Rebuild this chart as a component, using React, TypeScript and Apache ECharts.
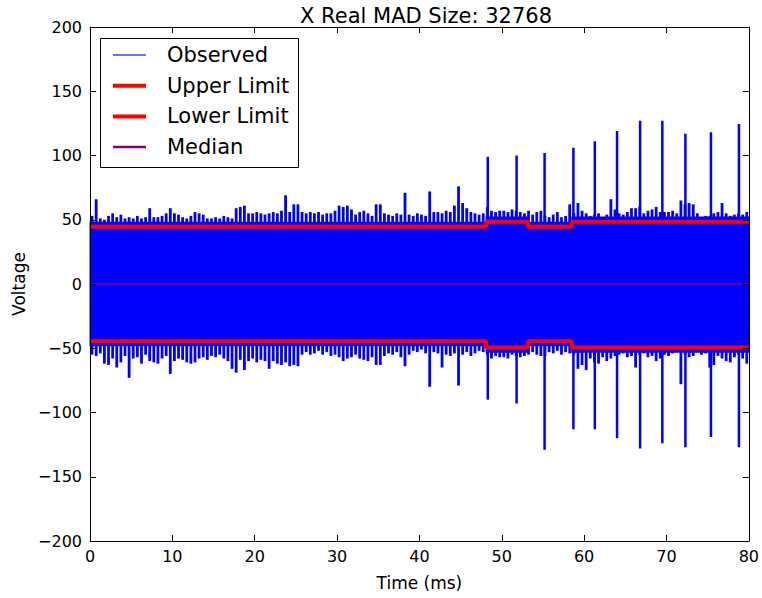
import React, { useEffect, useRef } from "react";
import * as echarts from "echarts";

// ---- Data ----
const TITLE = "X Real MAD Size: 32768";
const X_TICKS = [0, 10, 20, 30, 40, 50, 60, 70, 80];
const Y_TICKS = [-200, -150, -100, -50, 0, 50, 100, 150, 200];

// Observed signal envelope, 0.5 ms bins starting at 0 ms (upper / lower peaks per bin)
const BIN_MS = 0.5;
const observedHigh = [
  53, 66, 51, 50, 53, 55, 52, 54, 51, 52,
  51, 53, 51, 52, 59, 52, 52, 53, 55, 59,
  55, 54, 52, 51, 53, 56, 55, 54, 51, 51,
  52, 51, 53, 52, 51, 59, 60, 61, 55, 55,
  56, 55, 54, 55, 56, 55, 57, 69, 56, 62,
  62, 56, 55, 56, 55, 56, 54, 55, 55, 57,
  61, 60, 61, 58, 54, 56, 57, 55, 53, 62,
  62, 55, 54, 53, 55, 54, 71, 54, 53, 55,
  54, 53, 72, 56, 56, 55, 57, 56, 61, 76,
  63, 59, 56, 55, 54, 55, 60, 57, 56, 57,
  57, 56, 58, 57, 56, 55, 57, 54, 56, 57,
  53, 52, 54, 56, 52, 53, 62, 55, 63, 57,
  55, 53, 54, 55, 52, 54, 66, 58, 55, 54,
  56, 59, 59, 60, 55, 57, 58, 60, 56, 56,
  56, 57, 55, 65, 62, 63, 62, 55, 52, 53,
  53, 55, 56, 63, 55, 53, 54, 55, 54, 56,
];
const observedLow = [
  -55, -56, -54, -62, -63, -58, -65, -61, -56, -73,
  -58, -57, -62, -55, -60, -61, -62, -58, -56, -70,
  -60, -58, -59, -61, -62, -61, -58, -57, -59, -56,
  -57, -55, -58, -60, -66, -69, -59, -67, -60, -58,
  -61, -59, -60, -66, -60, -62, -63, -61, -64, -63,
  -64, -55, -53, -55, -54, -52, -55, -53, -56, -55,
  -57, -60, -58, -57, -55, -58, -59, -60, -57, -63,
  -63, -56, -54, -55, -53, -57, -64, -55, -52, -53,
  -51, -54, -80, -53, -54, -65, -55, -56, -54, -79,
  -55, -53, -56, -54, -52, -53, -55, -58, -56, -57,
  -57, -58, -55, -56, -57, -56, -55, -53, -55, -56,
  -56, -53, -54, -52, -55, -53, -54, -55, -66, -63,
  -67, -58, -61, -62, -57, -60, -58, -56, -55, -54,
  -57, -56, -65, -55, -54, -57, -56, -60, -58, -55,
  -56, -54, -53, -78, -55, -57, -56, -53, -55, -54,
  -65, -63, -56, -58, -60, -61, -57, -55, -58, -62,
];

// Large bursts in the observed signal
const spikeTime = [48.3, 51.8, 55.2, 58.7, 61.3, 64.0, 66.8, 69.5, 72.3, 75.4, 78.8];
const spikeHigh = [99, 100, 102, 106, 111, 119, 127, 127, 117, 118, 124.5];
const spikeLow = [-90, -93, -129, -113, -113, -120, -128, -124, -127, -119, -127];

// Limits (step changes)
const limitTime = [0, 48.1, 53.2, 58.5, 80];
const upperLimit = [44.5, 48.5, 44.5, 48.5, 48.5];
const lowerLimit = [-44.5, -49.5, -44.5, -49.5, -49.5];
const medianTime = [0, 80];
const medianValue = [0, 0];

const LEGEND = [
  { name: "Observed", color: "#3344ff", width: 1.3 },
  { name: "Upper Limit", color: "#ff0000", width: 4 },
  { name: "Lower Limit", color: "#ff0000", width: 4 },
  { name: "Median", color: "#800080", width: 2.5 },
];

const FONT = "DejaVu Sans";

export default function App() {
  const ref = useRef<HTMLDivElement>(null);

  useEffect(() => {
    if (!ref.current) return;
    const chart = echarts.init(ref.current, null, { renderer: "svg" });

    // core band rectangles between limit changes (dense part of the noise)
    const coreData = limitTime.slice(0, -1).map((t, i) => [
      t,
      limitTime[i + 1],
      lowerLimit[i] - 4,
      upperLimit[i] + 4,
    ]);
    const fringeData = observedHigh.map((h, i) => [i * BIN_MS + BIN_MS / 2, observedLow[i], h]);
    const spikeData = spikeTime.map((t, i) => [t, spikeLow[i], spikeHigh[i]]);

    const lineItem = (w: number) => (params: any, api: any) => {
      const p0 = api.coord([api.value(0), api.value(1)]);
      const p1 = api.coord([api.value(0), api.value(2)]);
      return {
        type: "line",
        shape: { x1: p0[0], y1: p0[1], x2: p1[0], y2: p1[1] },
        style: { stroke: "#0000ff", lineWidth: w },
      };
    };

    const yFmt = (v: number) => (v < 0 ? "\u2212" + Math.abs(v) : String(v));
    const tickLabel = { color: "#000", fontFamily: FONT, fontSize: 16 };
    const axisLine = { show: true, onZero: false, lineStyle: { color: "#000", width: 1 } };
    const tickIn = { show: true, inside: true, length: 6, lineStyle: { color: "#000" } };

    const legendGraphics: any[] = [
      {
        type: "rect",
        shape: { x: 100.5, y: 38.5, width: 198, height: 129 },
        style: { fill: "#fff", stroke: "#000", lineWidth: 1 },
        z: 100,
      },
    ];
    LEGEND.forEach((it, i) => {
      const y = 55 + i * 30.7;
      legendGraphics.push({
        type: "line",
        shape: { x1: 113, y1: y, x2: 146, y2: y },
        style: { stroke: it.color, lineWidth: it.width },
        z: 101,
      });
      legendGraphics.push({
        type: "text",
        x: 167,
        y: y,
        style: {
          text: it.name,
          fill: "#000",
          font: `21px "${FONT}"`,
          verticalAlign: "middle",
        },
        z: 101,
      });
    });

    chart.setOption({
      animation: false,
      backgroundColor: "#fff",
      title: {
        text: TITLE,
        left: 421,
        top: 0,
        textAlign: "center",
        textStyle: { fontFamily: FONT, fontSize: 21, fontWeight: "normal", color: "#000" },
      },
      grid: { left: 90, right: 12, top: 27, bottom: 57, show: false },
      xAxis: [
        {
          type: "value",
          min: X_TICKS[0],
          max: X_TICKS[X_TICKS.length - 1],
          interval: 10,
          position: "bottom",
          name: "Time (ms)",
          nameLocation: "middle",
          nameGap: 33,
          nameTextStyle: { color: "#000", fontFamily: FONT, fontSize: 17 },
          axisLine,
          axisTick: tickIn,
          axisLabel: { ...tickLabel, margin: 7 },
          splitLine: { show: false },
          z: 10,
        },
        {
          type: "value",
          min: X_TICKS[0],
          max: X_TICKS[X_TICKS.length - 1],
          interval: 10,
          position: "top",
          axisLine,
          axisTick: tickIn,
          axisLabel: { show: false },
          splitLine: { show: false },
          z: 10,
        },
      ],
      yAxis: [
        {
          type: "value",
          min: Y_TICKS[0],
          max: Y_TICKS[Y_TICKS.length - 1],
          interval: 50,
          position: "left",
          name: "Voltage",
          nameLocation: "middle",
          nameGap: 62,
          nameTextStyle: { color: "#000", fontFamily: FONT, fontSize: 17 },
          axisLine,
          axisTick: tickIn,
          axisLabel: { ...tickLabel, margin: 8, formatter: yFmt },
          splitLine: { show: false },
          z: 10,
        },
        {
          type: "value",
          min: Y_TICKS[0],
          max: Y_TICKS[Y_TICKS.length - 1],
          interval: 50,
          position: "right",
          axisLine,
          axisTick: tickIn,
          axisLabel: { show: false },
          splitLine: { show: false },
          z: 10,
        },
      ],
      series: [
        {
          name: "Observed",
          type: "custom",
          data: coreData,
          encode: { x: [0, 1], y: [2, 3] },
          renderItem: (params: any, api: any) => {
            const p0 = api.coord([api.value(0), api.value(3)]);
            const p1 = api.coord([api.value(1), api.value(2)]);
            return {
              type: "rect",
              shape: { x: p0[0] - 0.5, y: p0[1], width: p1[0] - p0[0] + 1, height: p1[1] - p0[1] },
              style: { fill: "#0000ff" },
            };
          },
          z: 1,
        },
        {
          name: "Observed",
          type: "custom",
          data: fringeData,
          encode: { x: 0, y: [1, 2] },
          renderItem: lineItem(2.8),
          z: 1,
        },
        {
          name: "Observed",
          type: "custom",
          data: spikeData,
          encode: { x: 0, y: [1, 2] },
          renderItem: lineItem(2.5),
          z: 1,
        },
        {
          name: "Upper Limit",
          type: "line",
          step: "end",
          showSymbol: false,
          symbol: "none",
          data: limitTime.map((t, i) => [t, upperLimit[i]]),
          lineStyle: { color: "#ff0000", width: 4 },
          z: 3,
        },
        {
          name: "Lower Limit",
          type: "line",
          step: "end",
          showSymbol: false,
          symbol: "none",
          data: limitTime.map((t, i) => [t, lowerLimit[i]]),
          lineStyle: { color: "#ff0000", width: 4 },
          z: 3,
        },
        {
          name: "Median",
          type: "line",
          showSymbol: false,
          symbol: "none",
          data: medianTime.map((t, i) => [t, medianValue[i]]),
          lineStyle: { color: "#800080", width: 1.5 },
          z: 4,
        },
      ],
      graphic: legendGraphics,
    });

    return () => chart.dispose();
  }, []);

  return (
    <div
      ref={ref}
      style={{ position: "absolute", left: 0, top: 0, width: 762, height: 598 }}
    />
  );
}
